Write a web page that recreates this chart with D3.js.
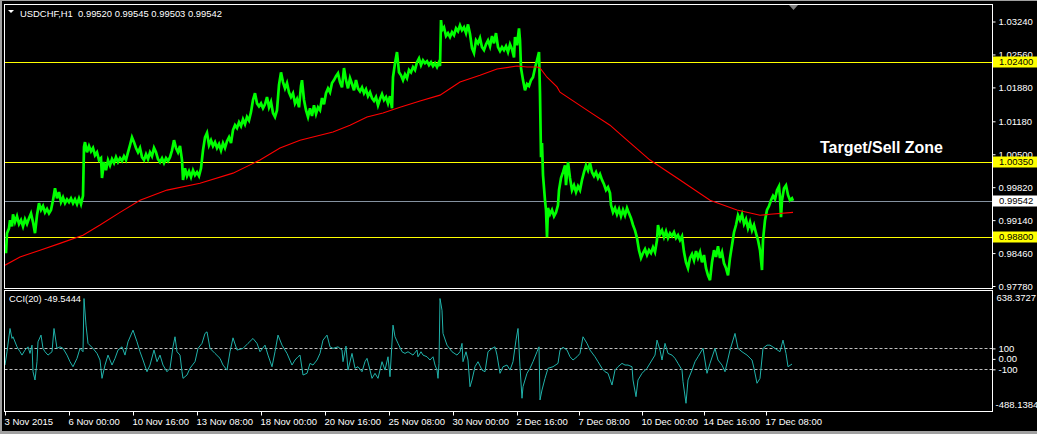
<!DOCTYPE html>
<html><head><meta charset="utf-8">
<script src="https://cdn.jsdelivr.net/npm/d3@7"></script>
<style>
html,body{margin:0;padding:0;background:#000;overflow:hidden}
svg{display:block}
text{font-family:"Liberation Sans",Arial,sans-serif}
</style></head><body>
<svg id="c" width="1037" height="434"></svg>
<script>
const chartTitle = "USDCHF,H1  0.99520 0.99545 0.99503 0.99542";
const cciTitle = "CCI(20) -49.5444";
const annotation = "Target/Sell Zone";
const xTickBars = [0,64,128,192,256,320,384,448,512,574,637,699,761];
const xTickLabels = ["3 Nov 2015","6 Nov 00:00","10 Nov 16:00","13 Nov 08:00","18 Nov 00:00","20 Nov 16:00","25 Nov 08:00","30 Nov 00:00","2 Dec 16:00","7 Dec 08:00","10 Dec 00:00","14 Dec 16:00","17 Dec 08:00"];
const priceTicks = [1.03240,1.02560,1.01880,1.01180,1.00500,0.99820,0.99140,0.98460,0.97780];
const priceDomain = [0.97729, 1.03591];
const levelLines = [1.02400, 1.00350, 0.98800];
const bidPrice = 0.99542;
const cciRange = [-488.1384, 638.3727];
const cciLevels = [100, -100];
const cciTicks = [100, 0, -100];

// [bar index, close]
const priceClose = [[0,0.9862],[1,0.9846],[2,0.9887],[4,0.9897],[5,0.9914],[7,0.9901],[8,0.9926],[10,0.9910],[12,0.9922],[14,0.9906],[16,0.9914],[18,0.9901],[20,0.9916],[22,0.9906],[24,0.9918],[26,0.9928],[28,0.9910],[30,0.9887],[32,0.9924],[34,0.9949],[36,0.9935],[38,0.9943],[40,0.9930],[42,0.9937],[44,0.9928],[46,0.9935],[48,0.9955],[50,0.9980],[52,0.9959],[54,0.9972],[56,0.9951],[58,0.9961],[60,0.9949],[62,0.9957],[64,0.9951],[66,0.9959],[68,0.9949],[70,0.9957],[72,0.9947],[74,0.9959],[76,0.9947],[78,0.9964],[79,1.0065],[80,1.0075],[82,1.0054],[84,1.0067],[86,1.0056],[88,1.0063],[90,1.0048],[92,1.0054],[94,1.0038],[96,1.0042],[97,1.0001],[99,1.0034],[101,1.0017],[103,1.0038],[105,1.0027],[107,1.0040],[109,1.0032],[111,1.0044],[113,1.0034],[115,1.0042],[117,1.0036],[119,1.0046],[121,1.0038],[123,1.0054],[125,1.0069],[127,1.0085],[129,1.0075],[131,1.0063],[133,1.0054],[135,1.0063],[137,1.0044],[139,1.0038],[141,1.0050],[143,1.0040],[145,1.0054],[147,1.0046],[149,1.0063],[151,1.0054],[153,1.0040],[155,1.0034],[157,1.0042],[159,1.0032],[161,1.0042],[163,1.0036],[165,1.0044],[167,1.0058],[169,1.0079],[171,1.0063],[173,1.0054],[175,1.0067],[177,1.0038],[178,0.9997],[180,1.0021],[182,1.0005],[184,1.0015],[186,1.0003],[188,1.0017],[190,1.0007],[192,1.0013],[194,1.0005],[196,1.0021],[198,1.0058],[200,1.0085],[202,1.0094],[204,1.0069],[206,1.0079],[208,1.0067],[210,1.0075],[212,1.0063],[214,1.0071],[216,1.0058],[218,1.0073],[220,1.0063],[222,1.0077],[224,1.0085],[226,1.0073],[228,1.0100],[230,1.0110],[232,1.0104],[234,1.0116],[236,1.0108],[238,1.0122],[240,1.0112],[242,1.0127],[244,1.0120],[246,1.0137],[248,1.0162],[250,1.0176],[252,1.0155],[254,1.0149],[256,1.0155],[258,1.0145],[260,1.0153],[262,1.0168],[264,1.0147],[266,1.0158],[268,1.0135],[270,1.0127],[272,1.0141],[274,1.0193],[276,1.0219],[278,1.0199],[280,1.0186],[282,1.0197],[284,1.0178],[286,1.0168],[288,1.0176],[290,1.0155],[292,1.0164],[294,1.0147],[296,1.0191],[297,1.0203],[299,1.0162],[301,1.0141],[303,1.0127],[305,1.0145],[307,1.0129],[309,1.0151],[311,1.0133],[313,1.0147],[315,1.0141],[317,1.0166],[319,1.0153],[321,1.0176],[323,1.0186],[325,1.0178],[327,1.0197],[329,1.0203],[331,1.0211],[333,1.0217],[335,1.0199],[337,1.0188],[339,1.0228],[341,1.0203],[343,1.0186],[345,1.0207],[347,1.0195],[349,1.0182],[351,1.0203],[353,1.0186],[355,1.0180],[357,1.0188],[359,1.0176],[361,1.0184],[363,1.0170],[365,1.0178],[367,1.0166],[369,1.0160],[371,1.0168],[373,1.0151],[375,1.0164],[377,1.0174],[379,1.0162],[381,1.0168],[383,1.0155],[385,1.0170],[387,1.0145],[388,1.0209],[390,1.0238],[392,1.0261],[394,1.0219],[396,1.0213],[398,1.0203],[400,1.0215],[402,1.0207],[404,1.0224],[406,1.0219],[408,1.0230],[410,1.0224],[412,1.0240],[414,1.0248],[416,1.0234],[418,1.0244],[420,1.0238],[422,1.0242],[424,1.0234],[426,1.0240],[428,1.0232],[430,1.0238],[432,1.0230],[434,1.0240],[435,1.0232],[436,1.0327],[437,1.0306],[439,1.0312],[441,1.0294],[443,1.0300],[445,1.0292],[447,1.0302],[449,1.0296],[451,1.0310],[453,1.0304],[455,1.0316],[457,1.0306],[459,1.0312],[461,1.0300],[463,1.0318],[465,1.0298],[467,1.0269],[469,1.0259],[471,1.0285],[473,1.0279],[475,1.0290],[477,1.0271],[479,1.0265],[481,1.0277],[483,1.0285],[485,1.0273],[487,1.0294],[489,1.0279],[491,1.0300],[493,1.0271],[495,1.0263],[497,1.0271],[499,1.0265],[501,1.0273],[503,1.0261],[505,1.0277],[507,1.0267],[509,1.0250],[510,1.0292],[512,1.0275],[514,1.0310],[515,1.0285],[516,1.0228],[518,1.0203],[520,1.0182],[522,1.0195],[524,1.0191],[526,1.0203],[528,1.0209],[530,1.0228],[532,1.0244],[534,1.0261],[535,1.0176],[536,1.0044],[537,1.0073],[538,1.0007],[540,0.9955],[541,0.9935],[542,0.9879],[543,0.9939],[545,0.9926],[547,0.9935],[549,0.9922],[551,0.9930],[553,0.9945],[554,0.9976],[556,1.0001],[558,1.0013],[560,1.0027],[561,0.9986],[563,1.0034],[565,1.0001],[567,0.9976],[569,0.9986],[571,0.9972],[573,0.9984],[575,0.9976],[577,0.9997],[579,1.0013],[581,1.0027],[583,1.0017],[585,1.0032],[587,1.0013],[589,1.0005],[591,1.0013],[593,1.0001],[595,1.0009],[597,0.9997],[599,0.9988],[601,0.9976],[603,0.9982],[605,0.9970],[606,0.9945],[608,0.9930],[610,0.9939],[612,0.9926],[614,0.9937],[616,0.9922],[618,0.9935],[620,0.9924],[622,0.9939],[624,0.9928],[626,0.9918],[628,0.9904],[630,0.9893],[632,0.9877],[634,0.9852],[636,0.9836],[638,0.9846],[640,0.9854],[642,0.9842],[644,0.9852],[646,0.9846],[648,0.9858],[650,0.9848],[652,0.9873],[653,0.9904],[655,0.9885],[657,0.9893],[659,0.9879],[661,0.9891],[663,0.9877],[665,0.9887],[667,0.9881],[669,0.9889],[671,0.9877],[673,0.9883],[675,0.9873],[677,0.9881],[679,0.9848],[681,0.9827],[683,0.9815],[685,0.9836],[687,0.9844],[689,0.9831],[691,0.9850],[693,0.9836],[695,0.9848],[697,0.9827],[699,0.9842],[701,0.9815],[703,0.9800],[705,0.9790],[707,0.9827],[709,0.9852],[711,0.9838],[713,0.9860],[715,0.9836],[717,0.9848],[719,0.9825],[721,0.9815],[723,0.9800],[725,0.9836],[727,0.9862],[729,0.9889],[731,0.9904],[733,0.9924],[735,0.9914],[737,0.9926],[739,0.9906],[741,0.9916],[743,0.9897],[745,0.9910],[747,0.9893],[749,0.9904],[751,0.9887],[753,0.9873],[755,0.9852],[757,0.9811],[758,0.9873],[760,0.9914],[762,0.9935],[764,0.9943],[766,0.9955],[768,0.9964],[770,0.9957],[772,0.9976],[774,0.9984],[775,0.9961],[776,0.9920],[777,0.9955],[779,0.9980],[781,0.9986],[783,0.9966],[785,0.9955],[787,0.9959],[788,0.99542]];

// [bar index, moving average]
const movingAvg = [[0,0.9821],[15,0.9838],[35,0.9852],[55,0.9866],[78,0.9883],[95,0.9904],[115,0.9930],[135,0.9955],[162,0.9976],[195,0.9990],[228,1.0011],[255,1.0038],[275,1.0063],[295,1.0079],[328,1.0096],[345,1.0110],[362,1.0127],[378,1.0135],[395,1.0147],[415,1.0160],[435,1.0172],[455,1.0199],[475,1.0213],[492,1.0226],[512,1.0232],[522,1.0230],[532,1.0230],[535,1.0228],[542,1.0209],[552,1.0189],[555,1.0178],[585,1.0137],[605,1.0110],[622,1.0079],[645,1.0038],[675,0.9997],[705,0.9955],[732,0.9935],[755,0.9924],[765,0.9926],[788,0.9930]];

// [bar index, CCI(20)]
const cciSeries = [[0,-59],[2,68],[5,290],[7,195],[8,211],[12,115],[15,68],[17,36],[20,84],[23,115],[25,52],[27,131],[28,-123],[30,-202],[32,-27],[33,163],[36,227],[38,100],[40,68],[43,36],[47,68],[49,290],[52,100],[55,115],[58,100],[62,36],[65,-27],[68,-75],[72,5],[75,100],[78,68],[79,576],[81,322],[83,148],[88,100],[92,52],[95,-11],[97,-186],[100,-59],[103,36],[107,-59],[110,5],[113,84],[117,115],[120,36],[123,163],[128,274],[132,163],[135,68],[138,-11],[142,-123],[145,-59],[149,84],[152,-27],[155,36],[158,-59],[162,-123],[165,-90],[168,115],[170,211],[172,68],[175,36],[177,-123],[178,-186],[182,-154],[185,-90],[190,-27],[193,100],[197,148],[200,243],[202,258],[205,100],[210,52],[215,5],[218,-59],[222,-107],[225,68],[228,201],[232,84],[238,100],[243,148],[248,195],[252,148],[255,68],[260,131],[263,36],[267,-75],[270,68],[273,227],[277,131],[282,52],[287,-59],[290,-11],[293,20],[295,36],[298,-154],[302,-138],[305,-43],[308,-59],[312,-11],[315,52],[318,179],[322,227],[325,115],[328,100],[333,115],[337,84],[338,-27],[341,122],[343,-107],[347,52],[350,-90],[353,-75],[357,-123],[360,-27],[362,5],[365,-107],[367,-186],[370,-138],[373,-186],[377,-27],[380,-107],[383,20],[385,-170],[388,322],[390,211],[393,148],[397,68],[400,52],[403,68],[408,36],[412,84],[413,20],[416,68],[418,36],[422,20],[425,-11],[428,20],[430,-59],[432,-107],[433,-186],[434,-43],[435,576],[437,465],[438,243],[442,131],[447,68],[452,36],[455,68],[457,148],[458,-27],[461,68],[463,-11],[465,-266],[467,-202],[470,-75],[473,-27],[477,-107],[480,-123],[483,68],[487,100],[490,115],[492,36],[495,-138],[498,-75],[502,-59],[505,-107],[508,-27],[511,179],[513,290],[515,-75],[517,-376],[518,-266],[522,-138],[525,-90],[528,-27],[532,68],[534,115],[535,-392],[537,-297],[540,-186],[543,-90],[548,-75],[553,-43],[555,84],[558,110],[562,84],[565,20],[568,-11],[572,20],[575,52],[578,211],[582,148],[585,84],[590,20],[593,-27],[597,-90],[600,-123],[603,-138],[607,-250],[610,-107],[613,-75],[617,-43],[620,-59],[623,-59],[627,-75],[628,-202],[631,-361],[633,-202],[637,-138],[642,-90],[647,-11],[650,36],[652,179],[655,84],[657,-11],[660,148],[663,52],[667,36],[670,5],[673,-43],[677,-107],[678,-218],[681,-424],[683,-202],[687,-107],[690,-27],[693,20],[698,100],[702,-138],[705,-43],[710,100],[713,-11],[717,-59],[720,-123],[725,84],[730,243],[733,100],[737,68],[742,36],[747,-11],[749,-90],[752,-233],[755,-186],[758,100],[762,131],[765,131],[770,100],[775,68],[778,179],[781,52],[783,-75],[787,-49.5444]];

const svg = d3.select("#c");
const W = 1037, H = 434;
const L = 4.5, R = 992.5, mainTop = 4.5, mainBot = 288.5, cciTop = 290.5, cciBot = 411.5;
const FS = "9.5px";

svg.append("rect").attr("width", W).attr("height", H).attr("fill", "#000");

const x = d3.scaleLinear().domain([0, 987]).range([5, 992]);
const y = d3.scaleLinear().domain(priceDomain).range([mainBot, mainTop]);
const yc = d3.scaleLinear().domain(cciRange).range([410, 292]);

const defs = svg.append("defs");
defs.append("clipPath").attr("id", "cm").append("rect").attr("x", L + 0.5).attr("y", mainTop + 0.5).attr("width", R - L - 1).attr("height", mainBot - mainTop - 1);
defs.append("clipPath").attr("id", "cc").append("rect").attr("x", L + 0.5).attr("y", cciTop + 0.5).attr("width", R - L - 1).attr("height", cciBot - cciTop - 1);

// window border (left, top, bottom)
svg.append("rect").attr("x", 0).attr("y", 0).attr("width", 2).attr("height", H).attr("fill", "#a0a0a0");
svg.append("rect").attr("x", 0).attr("y", 0).attr("width", W).attr("height", 1).attr("fill", "#a0a0a0");
svg.append("rect").attr("x", 0).attr("y", 431).attr("width", W).attr("height", 3).attr("fill", "#a0a0a0");

const gm = svg.append("g").attr("clip-path", "url(#cm)");
// level lines
gm.selectAll("line.lvl").data(levelLines).join("line").attr("class", "lvl")
  .attr("x1", L).attr("x2", R).attr("y1", d => Math.round(y(d)) + 0.5).attr("y2", d => Math.round(y(d)) + 0.5)
  .attr("stroke", "#ffff00").attr("stroke-width", 1);
gm.append("line").attr("x1", L).attr("x2", R)
  .attr("y1", Math.round(y(bidPrice)) + 0.5).attr("y2", Math.round(y(bidPrice)) + 0.5)
  .attr("stroke", "#8592a0").attr("stroke-width", 1);

const line = d3.line().x(d => x(d[0])).y(d => y(d[1]));
gm.append("path").datum(priceClose).attr("d", line)
  .attr("fill", "none").attr("stroke", "#00ff00").attr("stroke-width", 2.7).attr("stroke-linejoin", "miter");
gm.append("path").datum(movingAvg).attr("d", line)
  .attr("fill", "none").attr("stroke", "#ff0000").attr("stroke-width", 1.1);

// title
svg.append("path").attr("d", "M8,10 L14,10 L11,13 Z").attr("fill", "#fff");
svg.append("text").attr("x", 20).attr("y", 16.5).attr("fill", "#fff").style("font-size", FS)
  .style("white-space", "pre").attr("textLength", 202).attr("lengthAdjust", "spacingAndGlyphs").text(chartTitle);
// shift marker
svg.append("path").attr("d", "M789,5 L798,5 L793.5,10 Z").attr("fill", "#808080");

// annotation
svg.append("text").attr("x", 820).attr("y", 153).attr("fill", "#fff")
  .style("font-size", "16px").style("font-weight", "bold")
  .attr("textLength", 123).attr("lengthAdjust", "spacingAndGlyphs").text(annotation);

// CCI
const gc = svg.append("g").attr("clip-path", "url(#cc)");
gc.selectAll("line.cl").data(cciLevels).join("line").attr("class", "cl")
  .attr("x1", L).attr("x2", R).attr("y1", d => Math.round(yc(d)) + 0.5).attr("y2", d => Math.round(yc(d)) + 0.5)
  .attr("stroke", "#c0c0c0").attr("stroke-width", 1).attr("stroke-dasharray", "3,2");
const cline = d3.line().x(d => x(d[0])).y(d => yc(d[1]));
gc.append("path").datum(cciSeries).attr("d", cline)
  .attr("fill", "none").attr("stroke", "#20b2aa").attr("stroke-width", 1);
svg.append("text").attr("x", 9).attr("y", 302).attr("fill", "#fff").style("font-size", FS)
  .attr("textLength", 72).attr("lengthAdjust", "spacingAndGlyphs").text(cciTitle);

// frames
svg.append("rect").attr("x", L).attr("y", mainTop).attr("width", R - L).attr("height", mainBot - mainTop)
  .attr("fill", "none").attr("stroke", "#fff");
svg.append("rect").attr("x", L).attr("y", cciTop).attr("width", R - L).attr("height", cciBot - cciTop)
  .attr("fill", "none").attr("stroke", "#fff");

// price axis
const ay = svg.append("g").attr("transform", `translate(${R},0)`)
  .call(d3.axisRight(y).tickValues(priceTicks).tickFormat(d3.format(".5f")).tickSize(3).tickPadding(3));
ay.select(".domain").remove();
ay.selectAll("line").attr("stroke", "#fff");
ay.selectAll("text").attr("fill", "#fff").style("font-size", FS).style("font-family", "Liberation Sans, Arial, sans-serif");

// highlighted labels
const hl = levelLines.map(v => ({v, bg: "#ffff00"})).concat([{v: bidPrice, bg: "#ffffff"}]);
const hg = svg.selectAll("g.hl").data(hl).join("g").attr("class", "hl")
  .attr("transform", d => `translate(${R + 0.5},${Math.round(y(d.v))})`);
hg.append("rect").attr("x", 0).attr("y", -5.5).attr("width", 44).attr("height", 11).attr("fill", d => d.bg);
hg.append("text").attr("x", 6).attr("y", 0).attr("dy", "0.35em").attr("fill", "#000")
  .style("font-size", FS).text(d => d3.format(".5f")(d.v));

// CCI axis
const ac = svg.append("g").attr("transform", `translate(${R},0)`)
  .call(d3.axisRight(yc).tickValues(cciTicks).tickFormat(d => d === 0 ? "0.00" : String(d)).tickSize(3).tickPadding(3));
ac.select(".domain").remove();
ac.selectAll("line").attr("stroke", "#fff");
ac.selectAll("text").attr("fill", "#fff").style("font-size", FS).style("font-family", "Liberation Sans, Arial, sans-serif");
svg.append("text").attr("x", R + 4).attr("y", yc(cciRange[1]) + 6).attr("dy", "0.35em").attr("fill", "#fff")
  .style("font-size", FS).text(cciRange[1].toFixed(4));
svg.append("text").attr("x", R + 3).attr("y", yc(cciRange[0]) - 5).attr("dy", "0.35em").attr("fill", "#fff")
  .style("font-size", FS).text(cciRange[0].toFixed(4));

// time axis
const ax = svg.append("g").attr("transform", `translate(0,${cciBot})`)
  .call(d3.axisBottom(x).tickValues(xTickBars).tickFormat((d, i) => xTickLabels[i]).tickSize(4).tickPadding(3));
ax.select(".domain").remove();
ax.selectAll("line").attr("stroke", "#fff");
ax.selectAll("text").attr("fill", "#fff").attr("text-anchor", "start").attr("x", -1)
  .style("font-size", FS).style("font-family", "Liberation Sans, Arial, sans-serif");
</script>
</body></html>
